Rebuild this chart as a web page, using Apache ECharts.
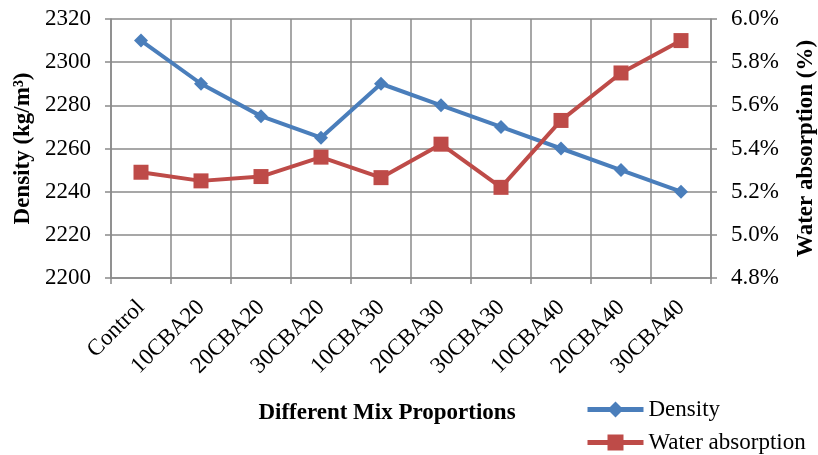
<!DOCTYPE html>
<html>
<head>
<meta charset="utf-8">
<script src="https://cdn.jsdelivr.net/npm/echarts@6/dist/echarts.min.js"></script>
<style>html,body{margin:0;padding:0;background:#fff}#c{width:818px;height:455px}</style>
</head>
<body>
<div id="c"></div>
<script>
const categories = ['Control','10CBA20','20CBA20','30CBA20','10CBA30','20CBA30','30CBA30','10CBA40','20CBA40','30CBA40'];
const density = [2310, 2290, 2275, 2265, 2290, 2280, 2270, 2260, 2250, 2240];
const waterAbsorption = [5.29, 5.25, 5.27, 5.36, 5.265, 5.42, 5.22, 5.53, 5.75, 5.90];
const densityTicks = {min: 2200, max: 2320, interval: 20};
const waterTicks = {min: 4.8, max: 6.0, interval: 0.2};

const FONT = "'Liberation Serif', 'Times New Roman', serif";
const GRID_COLOR = '#8a8a8a';
const chart = echarts.init(document.getElementById('c'));
chart.setOption({
  animation: false,
  backgroundColor: '#fff',
  textStyle: {fontFamily: FONT, color: '#000'},
  title: {
    text: 'Different Mix Proportions',
    left: 382, top: 397, textAlign: 'center',
    textStyle: {fontFamily: FONT, fontSize: 23, fontWeight: 'bold', color: '#000'}
  },
  grid: {left: 111, right: 107, top: 19, bottom: 177, containLabel: false, outerBoundsMode: 'none'},
  legend: {
    orient: 'vertical', left: 580, top: 393, itemWidth: 56, itemHeight: 20, itemGap: 10,
    height: 62,
    lineStyle: {width: 5},
    textStyle: {fontFamily: FONT, fontSize: 23, color: '#000'},
    data: ['Density', 'Water absorption']
  },
  xAxis: {
    type: 'category', data: categories, boundaryGap: true,
    axisLine: {lineStyle: {color: GRID_COLOR, width: 1.5}},
    axisTick: {show: true, length: 6, lineStyle: {color: GRID_COLOR, width: 1.5}},
    splitLine: {show: true, lineStyle: {color: GRID_COLOR, width: 1.5}},
    axisLabel: {rotate: 45, margin: 26, interval: 0, fontFamily: FONT, fontSize: 23, color: '#000'}
  },
  yAxis: [{
    type: 'value', min: densityTicks.min, max: densityTicks.max, interval: densityTicks.interval,
    name: 'Density (kg/m³)', nameLocation: 'middle', nameGap: 70, nameRotate: 90,
    nameTextStyle: {fontFamily: FONT, fontSize: 23, fontWeight: 'bold', color: '#000'},
    axisLine: {show: true, lineStyle: {color: GRID_COLOR, width: 1.5}},
    axisTick: {show: true, length: 6, lineStyle: {color: GRID_COLOR, width: 1.5}},
    splitLine: {show: true, lineStyle: {color: GRID_COLOR, width: 1.5}},
    axisLabel: {margin: 20, fontFamily: FONT, fontSize: 23, color: '#000',
      formatter: v => String(v)}
  }, {
    type: 'value', min: waterTicks.min, max: waterTicks.max, interval: waterTicks.interval,
    position: 'right',
    name: 'Water absorption (%)', nameLocation: 'middle', nameGap: 84, nameRotate: 90,
    nameTextStyle: {fontFamily: FONT, fontSize: 23, fontWeight: 'bold', color: '#000'},
    axisLine: {show: true, lineStyle: {color: GRID_COLOR, width: 1.5}},
    axisTick: {show: true, length: 6, lineStyle: {color: GRID_COLOR, width: 1.5}},
    splitLine: {show: false},
    axisLabel: {margin: 20, fontFamily: FONT, fontSize: 23, color: '#000',
      formatter: v => v.toFixed(1) + '%'}
  }],
  series: [{
    name: 'Density', type: 'line', yAxisIndex: 0, data: density,
    symbol: 'diamond', symbolSize: 14,
    lineStyle: {color: '#4a7ebb', width: 4},
    itemStyle: {color: '#4a7ebb'}
  }, {
    name: 'Water absorption', type: 'line', yAxisIndex: 1, data: waterAbsorption,
    symbol: 'rect', symbolSize: 15,
    lineStyle: {color: '#be4b48', width: 4},
    itemStyle: {color: '#be4b48'}
  }]
});
</script>
</body>
</html>
